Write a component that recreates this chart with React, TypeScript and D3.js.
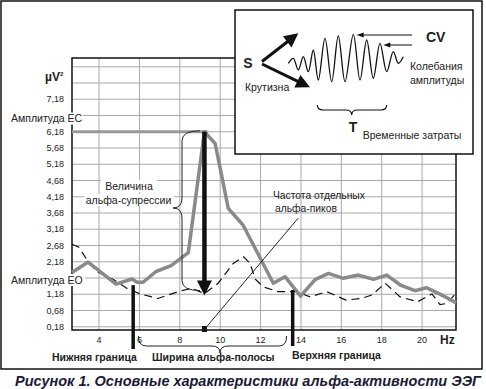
import * as d3 from "d3";
import React from "react";

const W = 486;
const H = 389;

// EC (eyes closed) spectrum: frequency, Hz / power, µV²
const ecHz = [2.66, 3.46, 4.84, 5.63, 5.88, 6.18, 6.82, 7.57, 8.42, 9.22, 9.75, 10.4, 11.13, 12.63, 13.21, 13.98, 14.7, 15.36, 16.1, 16.84, 17.59, 18.25, 18.96, 19.65, 20.22, 20.96, 21.68];
const ecVal = [1.85, 2.17, 1.49, 1.65, 1.55, 1.55, 1.88, 2.06, 2.46, 6.18, 5.82, 3.82, 3.31, 1.52, 1.72, 1.12, 1.63, 1.82, 1.67, 1.77, 1.64, 1.77, 1.45, 1.29, 1.38, 1.16, 0.92];

// EO (eyes open) spectrum
const eoHz = [2.66, 3.0, 3.41, 3.9, 4.69, 5.39, 6.03, 6.92, 8.01, 8.61, 9.22, 9.9, 10.65, 11.16, 11.48, 11.73, 12.12, 12.87, 13.79, 14.45, 15.28, 16.23, 16.98, 17.52, 18.17, 18.91, 19.78, 20.49, 20.89, 21.24, 21.68];
const eoVal = [2.72, 2.63, 2.23, 1.87, 1.64, 1.36, 1.19, 1.05, 1.28, 1.36, 1.2, 1.52, 2.13, 2.33, 2.13, 1.65, 1.41, 1.26, 1.26, 1.1, 1.26, 1.0, 1.05, 1.16, 1.52, 1.1, 0.95, 1.19, 0.86, 0.9, 1.21];

const xTicks = [4, 6, 8, 10, 12, 14, 16, 18, 20];
const yGrid = [0.18, 0.68, 1.18, 1.68, 2.18, 2.68, 3.18, 3.68, 4.18, 4.68, 5.18, 5.68, 6.18, 6.68, 7.18, 7.68, 8.18];
const yTicks = [0.18, 0.68, 1.18, 2.18, 2.68, 3.18, 3.68, 4.18, 4.68, 5.18, 5.68, 6.18, 7.18];

// key points of the annotation
const ecLevel = 6.18;
const eoLabelAt = 1.68;
const ecLabelAt = 6.68;
const peakHz = 9.22;
const eoAtPeak = 1.14;
const lowerHz = 5.69;
const upperHz = 13.59;
const bandStart = 6;

// inset wave, offsets inside the inset box
const waveX = [53.3, 58.3, 63.3, 68.3, 73.3, 78.3, 83.3, 90, 96.7, 103.3, 110, 118.3, 125, 131.7, 138.3, 145, 151.7, 158.3, 163.3, 168.3];
const waveY = [53.3, 48.3, 60, 46.7, 61.7, 40, 70, 28.3, 71.7, 26, 71.7, 24.3, 70, 30, 68.3, 33.3, 61.7, 41.7, 53.3, 46.7];

const FONT = "'Liberation Sans', Arial, sans-serif";

const hBrace = (x1: number, x2: number, xt: number, y0: number, h: number, d: number, r: number) =>
  `M${x1},${y0} Q${x1},${y0 + h} ${x1 + r},${y0 + h} L${xt - r},${y0 + h} Q${xt},${y0 + h} ${xt},${y0 + d} ` +
  `M${x2},${y0} Q${x2},${y0 + h} ${x2 - r},${y0 + h} L${xt + r},${y0 + h} Q${xt},${y0 + h} ${xt},${y0 + d}`;

const vBrace = (y1: number, y2: number, yt: number, x0: number, h: number, d: number, r: number) =>
  `M${x0},${y1} Q${x0 - h},${y1} ${x0 - h},${y1 + r} L${x0 - h},${yt - r} Q${x0 - h},${yt} ${x0 - d},${yt} ` +
  `M${x0},${y2} Q${x0 - h},${y2} ${x0 - h},${y2 - r} L${x0 - h},${yt + r} Q${x0 - h},${yt} ${x0 - d},${yt}`;

// thick arrow: shaft up to the head base, then a filled head
const arrow = (x1: number, y1: number, x2: number, y2: number, len: number, wid: number) => {
  const dx = x2 - x1, dy = y2 - y1;
  const l = Math.hypot(dx, dy);
  const ux = dx / l, uy = dy / l;
  const bx = x2 - ux * len, by = y2 - uy * len;
  const head = `${x2},${y2} ${bx - uy * wid / 2},${by + ux * wid / 2} ${bx + uy * wid / 2},${by - ux * wid / 2}`;
  return { shaft: `M${x1},${y1} L${bx + ux},${by + uy}`, head };
};

const App: React.FC = () => {
  const left = 72, right = 456, top = 58, bottom = 330;
  const x = d3.scaleLinear().domain([2.66, 21.68]).range([left, right]);
  const y = d3.scaleLinear().domain([0.08, 8.45]).range([bottom, top]);
  const fmt = (v: number) => d3.format(".2f")(v).replace(".", ",");

  const line = d3
    .line<[number, number]>()
    .x((d) => x(d[0]))
    .y((d) => y(d[1]));
  const ec = ecHz.map((h, i) => [h, ecVal[i]] as [number, number]);
  const eo = eoHz.map((h, i) => [h, eoVal[i]] as [number, number]);

  const px = x(peakHz);
  const big = arrow(px, y(ecLevel), px, y(eoAtPeak), 15, 15);

  // inset box
  const ix = 235, iy = 10, iw = 238, ih = 144;
  const wave = d3
    .line<number>()
    .x((_, i) => ix + waveX[i])
    .y((d) => iy + d)
    .curve(d3.curveCatmullRom.alpha(0.5));
  const up = arrow(ix + 27, iy + 51.5, ix + 63.3, iy + 23.3, 14, 14);
  const down = arrow(ix + 27, iy + 54, ix + 75, iy + 77.3, 14, 14);
  const cv1 = arrow(ix + 177, iy + 25, ix + 121.7, iy + 25, 7, 5);
  const cv2 = arrow(ix + 177, iy + 35, ix + 148.3, iy + 35, 7, 5);

  const txt = { fontFamily: FONT, fill: "#222" } as const;

  return (
    <svg
      width={W}
      height={H}
      style={{ position: "absolute", left: 0, top: 0, background: "#fff" }}
    >
      {/* outer frame */}
      <rect x={1} y={1} width={481} height={368} fill="#fff" stroke="#111" strokeWidth={1.5} />

      {/* grid */}
      {yGrid.map((v) => (
        <line key={"gy" + v} x1={left} x2={right} y1={y(v)} y2={y(v)} stroke="#a9a9a9" strokeWidth={1} />
      ))}
      {xTicks.map((v) => (
        <line key={"gx" + v} x1={x(v)} x2={x(v)} y1={top} y2={bottom} stroke="#a9a9a9" strokeWidth={1} />
      ))}
      <rect x={left} y={top} width={right - left} height={bottom - top} fill="none" stroke="#111" strokeWidth={1.5} />

      {/* y tick labels */}
      {yTicks.map((v) => (
        <text key={"yt" + v} x={64} y={y(v)} dy="0.35em" textAnchor="end" fontSize={9} style={txt}>
          {fmt(v)}
        </text>
      ))}
      <text x={45} y={81} fontSize={12} fontWeight="bold" style={txt}>
        µV<tspan fontSize={6} dy={-5}>2</tspan>
      </text>
      <rect x={10} y={y(ecLabelAt) - 3} width={73} height={12} fill="#fff" />
      <text x={11} y={y(ecLabelAt) + 3} dy="0.35em" fontSize={10.5} style={txt}>
        Амплитуда ЕС
      </text>
      <rect x={10} y={y(eoLabelAt) - 4} width={75} height={12} fill="#fff" />
      <text x={11} y={y(eoLabelAt) + 2} dy="0.35em" fontSize={10.5} style={txt}>
        Амплитуда ЕО
      </text>

      {/* x tick labels */}
      {xTicks.map((v) => (
        <text key={"xt" + v} x={x(v)} y={340} dy="0.35em" textAnchor="middle" fontSize={9} style={txt}>
          {v}
        </text>
      ))}
      <text x={440} y={340} dy="0.35em" fontSize={12} fontWeight="bold" style={txt}>
        Hz
      </text>

      {/* EC level line */}
      <line x1={left} x2={px + 3} y1={y(ecLevel)} y2={y(ecLevel)} stroke="#999" strokeWidth={3} />

      {/* series */}
      <path d={line(eo) ?? ""} fill="none" stroke="#111" strokeWidth={1.2} strokeDasharray="8,5" />
      <path d={line(ec) ?? ""} fill="none" stroke="#8a8a8a" strokeWidth={3.5} strokeLinejoin="round" />

      {/* alpha suppression arrow and brace */}
      <path d={big.shaft} stroke="#111" strokeWidth={4.5} />
      <polygon points={big.head} fill="#111" />
      <path d={vBrace(y(ecLevel) - 1, y(eoAtPeak) - 5, 208, 200, 18, 27, 10)} fill="none" stroke="#222" strokeWidth={1} />
      <rect x={101} y={180} width={56} height={12} fill="#fff" />
      <text x={129} y={186} dy="0.35em" textAnchor="middle" fontSize={10.5} style={txt}>
        Величина
      </text>
      <rect x={84} y={194} width={90} height={12} fill="#fff" />
      <text x={128.5} y={200} dy="0.35em" textAnchor="middle" fontSize={10.5} style={txt}>
        альфа-супрессии
      </text>

      {/* individual alpha peak frequency */}
      <rect x={px - 2.5} y={bottom - 4} width={5} height={6} fill="#111" />
      <line x1={px + 2} y1={bottom - 3} x2={x(13.86)} y2={y(3.52)} stroke="#111" strokeWidth={0.9} />
      <text x={273} y={195} dy="0.35em" fontSize={10.3} style={txt}>
        Частота отдельных
      </text>
      <text x={275} y={208.5} dy="0.35em" fontSize={10.3} style={txt}>
        альфа-пиков
      </text>

      {/* band bounds */}
      <line x1={x(lowerHz)} x2={x(lowerHz)} y1={y(1.46)} y2={349} stroke="#111" strokeWidth={3.5} />
      <line x1={x(upperHz)} x2={x(upperHz)} y1={y(1.31)} y2={346} stroke="#111" strokeWidth={3.5} />
      <path d={hBrace(x(bandStart) - 1, x(upperHz) - 6, 220, 336, 10, 17, 8)} fill="none" stroke="#222" strokeWidth={1} />

      <text x={52} y={357} dy="0.35em" fontSize={10.5} fontWeight="bold" style={txt}>
        Нижняя граница
      </text>
      <text x={152} y={357} dy="0.35em" fontSize={10.5} fontWeight="bold" style={txt}>
        Ширина альфа-полосы
      </text>
      <text x={292} y={355} dy="0.35em" fontSize={10.5} fontWeight="bold" style={txt}>
        Верхняя граница
      </text>

      {/* inset */}
      <rect x={ix} y={iy} width={iw} height={ih} fill="#fff" stroke="#111" strokeWidth={1.5} />
      <path d={wave(waveY) ?? ""} fill="none" stroke="#111" strokeWidth={1.3} />
      <path d={up.shaft} stroke="#111" strokeWidth={3} />
      <polygon points={up.head} fill="#111" />
      <path d={down.shaft} stroke="#111" strokeWidth={3} />
      <polygon points={down.head} fill="#111" />
      <path d={cv1.shaft} stroke="#111" strokeWidth={1} />
      <polygon points={cv1.head} fill="#111" />
      <path d={cv2.shaft} stroke="#111" strokeWidth={1} />
      <polygon points={cv2.head} fill="#111" />
      <path d={hBrace(ix + 82.3, ix + 151.7, ix + 116.7, iy + 95, 5, 10, 6)} fill="none" stroke="#111" strokeWidth={1.2} />

      <text x={ix + 13} y={iy + 53} dy="0.35em" textAnchor="middle" fontSize={14} fontWeight="bold" style={txt}>
        S
      </text>
      <text x={ix + 10} y={iy + 77} dy="0.35em" fontSize={10.5} style={txt}>
        Крутизна
      </text>
      <text x={ix + 191} y={iy + 27} dy="0.35em" fontSize={14} fontWeight="bold" style={txt}>
        CV
      </text>
      <text x={ix + 175} y={iy + 56} dy="0.35em" fontSize={10.5} style={txt}>
        Колебания
      </text>
      <text x={ix + 175} y={iy + 70} dy="0.35em" fontSize={10.5} style={txt}>
        амплитуды
      </text>
      <text x={ix + 118} y={iy + 117} dy="0.35em" textAnchor="middle" fontSize={14} fontWeight="bold" style={txt}>
        T
      </text>
      <text x={ix + 127.7} y={iy + 125} dy="0.35em" fontSize={10.5} style={txt}>
        Временные затраты
      </text>

      {/* caption */}
      <text
        x={248}
        y={381}
        dy="0.35em"
        textAnchor="middle"
        fontSize={14.5}
        fontWeight="bold"
        fontStyle="italic"
        style={{ fontFamily: FONT, fill: "#1b1b38" }}
      >
        Рисунок 1. Основные характеристики альфа-активности ЭЭГ
      </text>
    </svg>
  );
};

export default App;
